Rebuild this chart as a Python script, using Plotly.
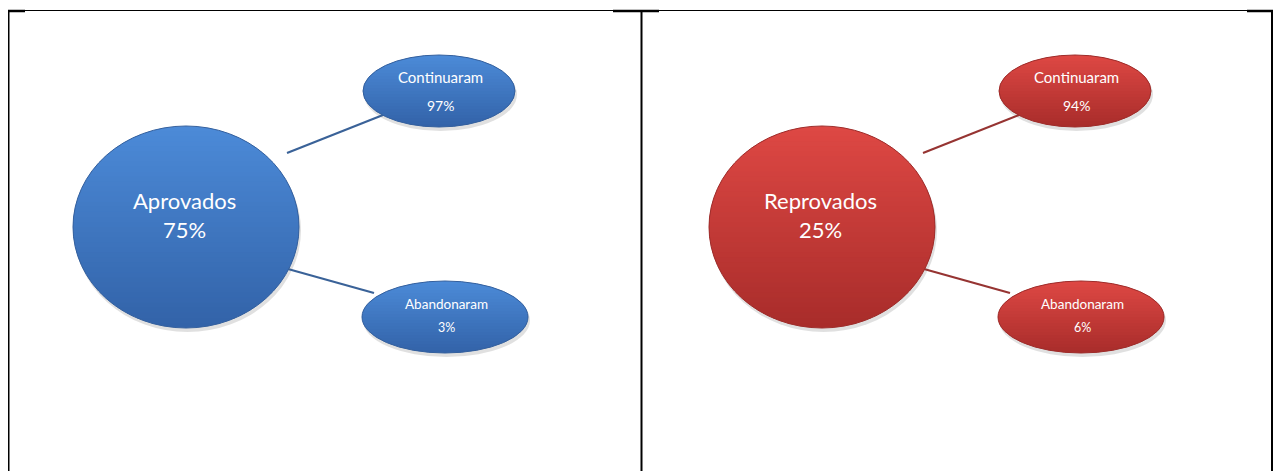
import numpy as np
import plotly.graph_objects as go

# dados
grupos = ["Aprovados", "Reprovados"]
grupos_pct = [75, 25]
desfechos = ["Continuaram", "Abandonaram"]
continuaram_pct = [97, 94]
abandonaram_pct = [3, 6]

W, H = 1281, 471
OFF = 8  # margem padrao do <body> na pagina

# cores (topo, base, contorno, conector) por grupo
paletas = [
    dict(top=(76, 139, 216), bot=(50, 98, 168), edge="rgb(52,96,158)", link="rgb(58,98,152)"),
    dict(top=(222, 72, 68), bot=(168, 44, 42), edge="rgb(158,44,42)", link="rgb(150,52,50)"),
]

# geometria (px, relativa ao painel)
painel_dx = [0, 636]
no_principal = (186, 227, 113, 101)
nos_desfecho = [(439, 91, 76, 36), (445, 317, 83, 36)]
conectores = [((287, 153), (383, 115)), ((288, 269), (374, 293))]


def mix(c0, c1, t):
    return "rgb(%d,%d,%d)" % tuple(round(a + (b - a) * t) for a, b in zip(c0, c1))


def elipse_gradiente(fig, cx, cy, rx, ry, pal, n=40):
    # sombra
    fig.add_shape(type="circle", x0=cx - rx + 1, x1=cx + rx + 2, y0=cy - ry + 3, y1=cy + ry + 4,
                  fillcolor="rgba(0,0,0,0.12)", line_width=0, layer="below")
    ys = np.linspace(cy - ry, cy + ry, n + 1)
    for k in range(n):
        ya, yb = ys[k], min(ys[k + 1] + 0.8, cy + ry)
        yy = np.linspace(ya, yb, 6)
        half = rx * np.sqrt(np.clip(1 - ((yy - cy) / ry) ** 2, 0, 1))
        px = np.concatenate([cx + half, (cx - half)[::-1]])
        py = np.concatenate([yy, yy[::-1]])
        path = "M " + " L ".join("%.2f,%.2f" % (a, b) for a, b in zip(px, py)) + " Z"
        fig.add_shape(type="path", path=path, fillcolor=mix(pal["top"], pal["bot"], (k + 0.5) / n),
                      line_width=0, layer="above")
    fig.add_shape(type="circle", x0=cx - rx, x1=cx + rx, y0=cy - ry, y1=cy + ry,
                  line=dict(color=pal["edge"], width=1), fillcolor="rgba(0,0,0,0)", layer="above")


fig = go.Figure()

for i, grupo in enumerate(grupos):
    dx = painel_dx[i]
    pal = paletas[i]
    valores = [continuaram_pct[i], abandonaram_pct[i]]

    # conectores (abaixo das elipses)
    for (p0, p1) in conectores:
        fig.add_trace(go.Scatter(x=[p0[0] + dx, p1[0] + dx], y=[p0[1], p1[1]], mode="lines",
                                 line=dict(color=pal["link"], width=2.2),
                                 hoverinfo="skip", showlegend=False))

    cx, cy, rx, ry = no_principal
    elipse_gradiente(fig, cx + dx, cy, rx, ry, pal)
    fig.add_annotation(x=cx + dx - 2, y=cy - 27, text=grupo, showarrow=False,
                       font=dict(family="Lato", size=22, color="white"))
    fig.add_annotation(x=cx + dx - 2, y=cy + 2, text=f"{grupos_pct[i]}%", showarrow=False,
                       font=dict(family="Lato", size=22, color="white"))

    for j, nome in enumerate(desfechos):
        ncx, ncy, nrx, nry = nos_desfecho[j]
        elipse_gradiente(fig, ncx + dx, ncy, nrx, nry, pal, n=24)
        if j == 0:
            fs, fs2, y1, y2 = 15, 14, -14, 14
        else:
            fs, fs2, y1, y2 = 13.5, 12.5, -13, 10
        fig.add_annotation(x=ncx + dx + 1, y=ncy + y1, text=nome, showarrow=False,
                           font=dict(family="Lato", size=fs, color="white"))
        fig.add_annotation(x=ncx + dx + 1, y=ncy + y2, text=f"{valores[j]}%", showarrow=False,
                           font=dict(family="Lato", size=fs2, color="white"))

# bordas da tabela
fig.add_shape(type="line", x0=9, x1=1272, y0=10.5, y1=10.5, line=dict(color="black", width=1))
for xa, xb in [(8, 25), (613, 659), (1247, 1273)]:
    fig.add_shape(type="line", x0=xa, x1=xb, y0=11, y1=11, line=dict(color="black", width=2.5))
for xv in [8.5, 641.5, 1272]:
    fig.add_shape(type="line", x0=xv, x1=xv, y0=10, y1=H + 2, line=dict(color="black", width=2))

fig.update_layout(
    width=W - OFF, height=H - OFF,
    margin=dict(l=0, r=0, t=0, b=0),
    paper_bgcolor="white", plot_bgcolor="white",
    xaxis=dict(range=[OFF, W], visible=False, fixedrange=True),
    yaxis=dict(range=[H, OFF], visible=False, fixedrange=True),
    showlegend=False,
)

fig.write_html("out.html")
